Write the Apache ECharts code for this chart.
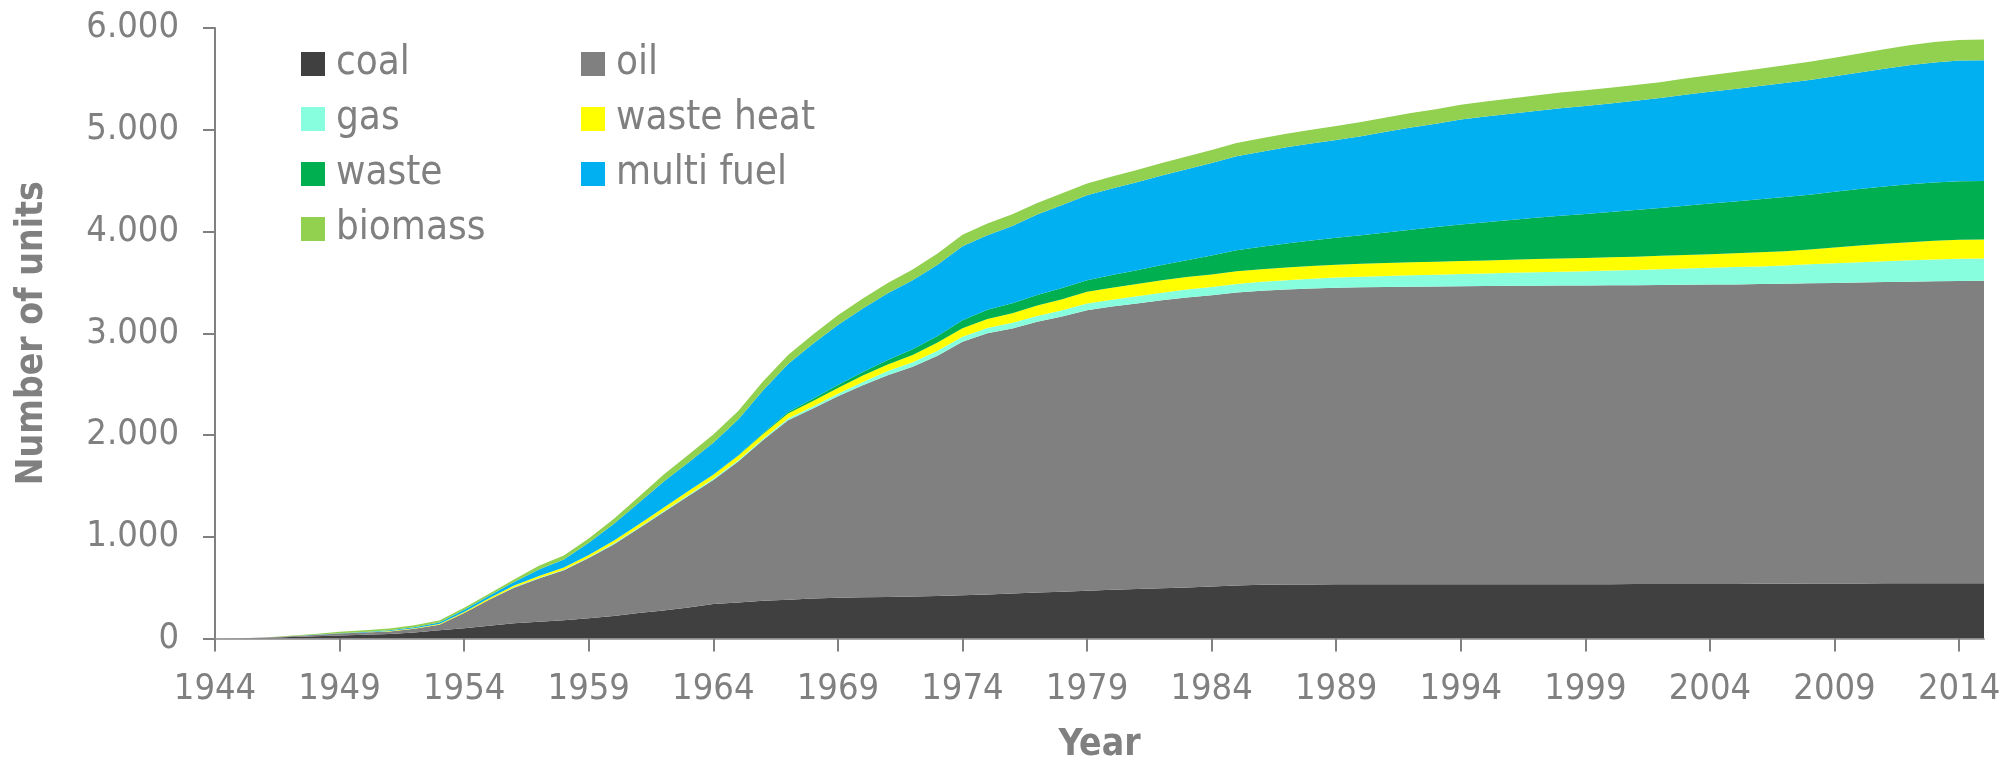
<!DOCTYPE html>
<html>
<head>
<meta charset="utf-8">
<script src="https://cdn.jsdelivr.net/npm/echarts@6/dist/echarts.min.js"></script>
<style>
html,body{margin:0;padding:0;background:#fff;}
#chart{width:2014px;height:757px;}
</style>
</head>
<body>
<div id="chart"></div>
<script>
var years = [];
for (var y = 1944; y <= 2015; y++) years.push(String(y));

var coal = [0,2,6,14,22,30,36,45,60,80,100,125,150,165,180,200,222,250,275,305,338,355,370,382,393,401,405,409,413,418,424,433,442,451,460,470,478,486,494,502,510,520,529,530,531,532,532,532,533,533,533,533,533,534,534,534,534,535,535,535,536,536,537,538,540,541,541,542,542,542,542,542];
var coalOilTop = [0,3,10,22,35,48,58,70,95,135,250,380,500,590,670,790,925,1080,1240,1400,1557,1740,1950,2146,2260,2380,2490,2588,2670,2780,2916,3000,3047,3112,3165,3227,3262,3292,3325,3352,3374,3401,3417,3430,3440,3448,3452,3455,3458,3460,3462,3464,3466,3468,3469,3470,3471,3472,3474,3476,3478,3480,3483,3487,3491,3495,3499,3503,3507,3511,3514,3515];
var oil = coalOilTop.map(function(v, i){ return v - coal[i]; });
var gas = [0,0,0,0,0,0,0,0,0,0,0,2,3,4,5,6,8,9,10,11,12,13,14,16,20,25,32,40,45,49,50,52,55,58,62,65,68,71,74,77,80,84,88,92,96,100,104,108,112,116,120,124,128,132,136,140,145,150,155,160,165,170,174,180,186,192,198,204,210,215,219,220];
var wasteHeat = [0,0,0,0,0,0,0,3,5,8,10,14,18,20,22,25,28,32,35,38,40,43,46,49,54,58,62,65,72,80,82,88,95,102,108,115,118,120,122,123,124,125,125,125,126,126,126,127,127,127,128,128,128,129,129,130,130,131,132,133,134,136,138,140,145,155,165,172,178,183,186,186];
var waste = [0,0,0,0,0,0,0,0,0,0,0,0,0,0,0,0,0,0,0,0,3,6,10,16,22,28,35,45,55,65,80,92,98,104,110,115,125,137,150,165,185,205,220,235,250,265,280,300,320,340,360,375,390,405,420,432,445,458,470,485,498,510,522,532,540,548,556,563,569,573,576,576];
var multiFuel = [0,0,0,0,2,4,6,8,10,15,23,25,35,65,80,120,164,210,255,280,311,350,420,470,540,590,625,655,680,700,726,731,760,790,815,835,850,865,880,895,910,925,935,945,952,960,975,990,1005,1015,1030,1038,1045,1050,1058,1062,1068,1074,1080,1090,1098,1105,1113,1120,1128,1135,1145,1158,1170,1180,1185,1186];
var biomass = [0,0,1,4,8,14,16,18,20,20,20,20,25,35,38,42,49,60,70,78,81,85,88,90,92,95,98,100,105,110,115,115,115,115,115,115,118,120,122,125,127,130,132,134,135,137,138,140,142,144,146,148,150,152,153,154,154,155,157,160,163,166,170,174,178,182,187,192,196,200,202,203];

var seriesNames = ['coal','oil','gas','waste heat','waste','multi fuel','biomass'];
var seriesData = [coal, oil, gas, wasteHeat, waste, multiFuel, biomass];
var seriesColors = ['#404040','#808080','#87FFDE','#FFFF00','#00B050','#00B0F0','#92D050'];

var FONT = 'DejaVu Sans Condensed';
var GRAY = '#808080';

var chart = echarts.init(document.getElementById('chart'), null, {renderer:'canvas'});

var series = seriesNames.map(function(n, i){
  return {
    name: n,
    type: 'line',
    stack: 'total',
    data: seriesData[i],
    symbol: 'none',
    showSymbol: false,
    lineStyle: {width: 0, color: seriesColors[i]},
    itemStyle: {color: seriesColors[i]},
    areaStyle: {color: seriesColors[i], opacity: 1},
    emphasis: {disabled: true},
    silent: true,
    animation: false
  };
});

var legendCommon = {
  orient: 'vertical',
  padding: 0,
  itemWidth: 24,
  itemHeight: 24,
  itemGap: 15,
  icon: 'rect',
  selectedMode: false,
  textStyle: {fontFamily: FONT, fontSize: 40, color: GRAY, lineHeight: 40, padding: [0,0,0,6]}
};

chart.setOption({
  animation: false,
  backgroundColor: '#fff',
  color: seriesColors,
  grid: {left: 215, right: 30, top: 28, bottom: 118.5, containLabel: false, outerBoundsMode: 'none'},
  legend: [
    Object.assign({}, legendCommon, {left: 301, top: 44, data: ['coal','gas','waste','biomass']}),
    Object.assign({}, legendCommon, {left: 581, top: 44, data: ['oil','waste heat','multi fuel']})
  ],
  xAxis: {
    type: 'category',
    data: years,
    boundaryGap: false,
    name: 'Year',
    nameLocation: 'middle',
    nameGap: 88,
    nameTextStyle: {fontFamily: FONT, fontWeight: 'bold', fontSize: 37, color: GRAY},
    axisLine: {lineStyle: {color: '#A6A6A6', width: 2}},
    axisTick: {interval: 4, length: 13, lineStyle: {color: GRAY, width: 2}},
    axisLabel: {interval: 4, margin: 33, fontFamily: FONT, fontSize: 36, color: GRAY},
    splitLine: {show: false}
  },
  yAxis: {
    type: 'value',
    min: 0,
    max: 6000,
    interval: 1000,
    name: 'Number of units',
    nameLocation: 'middle',
    nameGap: 164,
    nameTextStyle: {fontFamily: FONT, fontWeight: 'bold', fontSize: 37, color: GRAY},
    axisLine: {show: true, lineStyle: {color: GRAY, width: 2}},
    axisTick: {show: true, length: 12, lineStyle: {color: GRAY, width: 2}},
    axisLabel: {margin: 36, fontFamily: FONT, fontSize: 36, color: GRAY,
      formatter: function(v){ return v === 0 ? '0' : String(v).replace(/\B(?=(\d{3})+(?!\d))/g, '.'); }},
    splitLine: {show: false}
  },
  series: series
});
</script>
</body>
</html>
